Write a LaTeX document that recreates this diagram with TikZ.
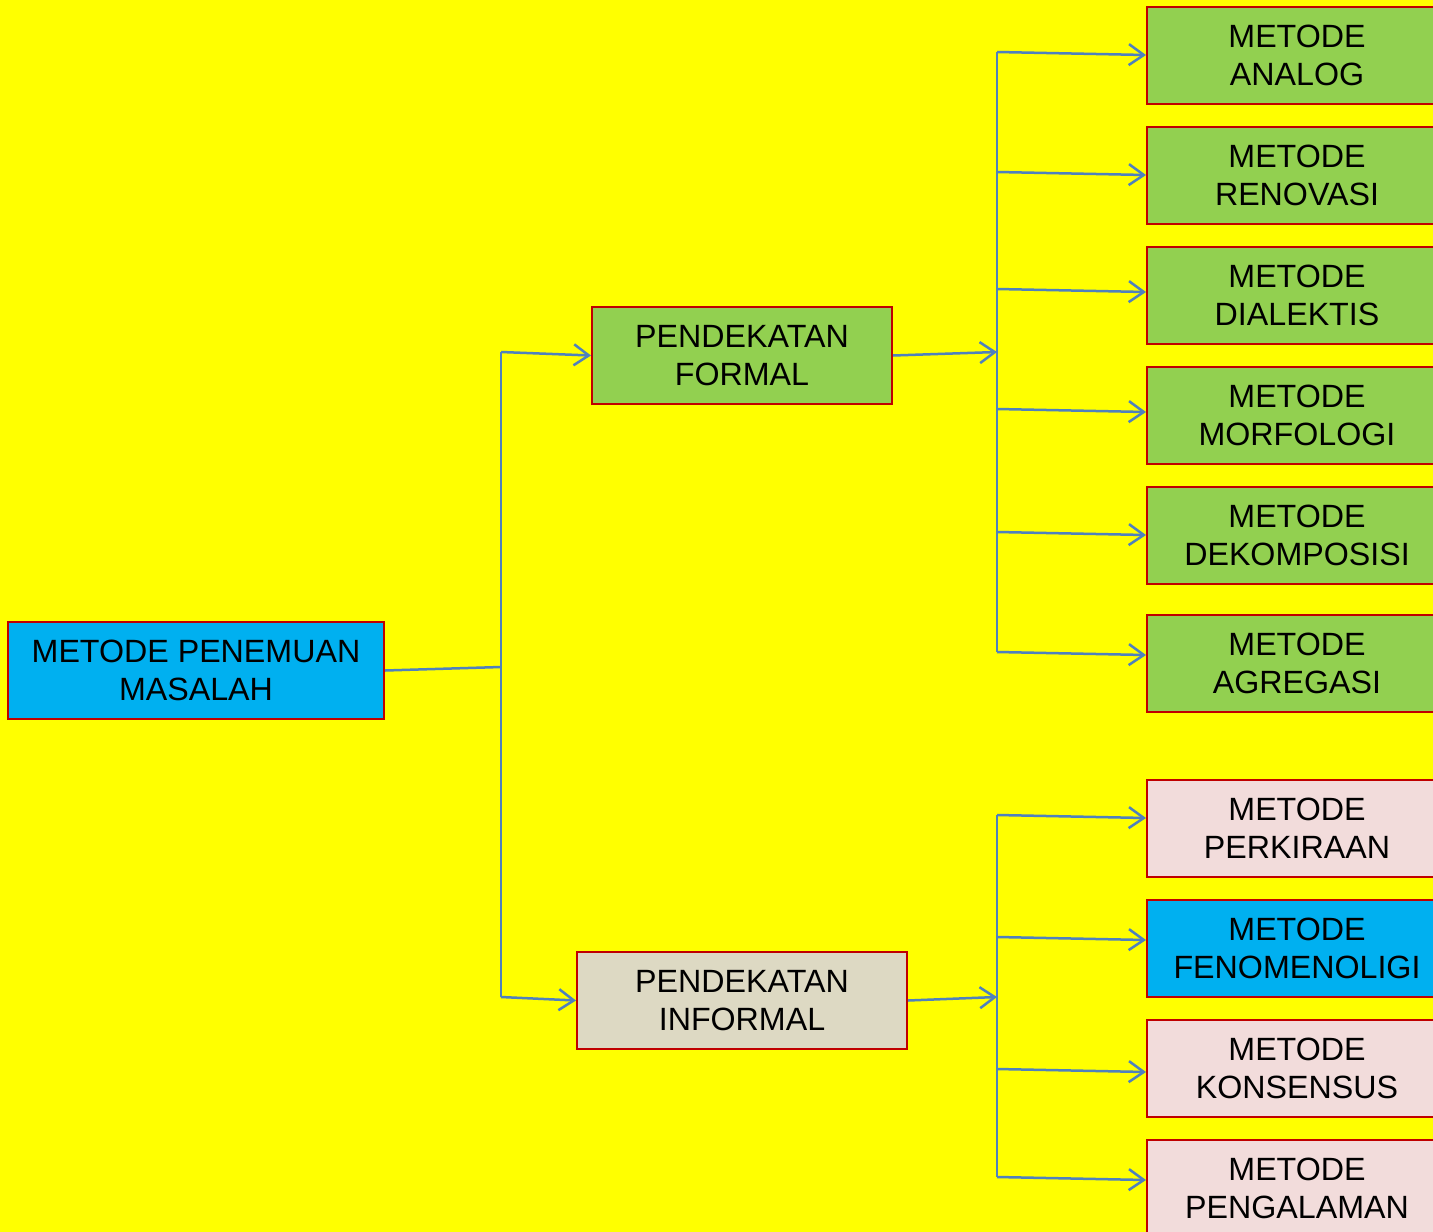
\documentclass[tikz,border=0pt]{standalone}
\usepackage{fontspec}
\setmainfont{Liberation Sans}
\usetikzlibrary{arrows.meta}
\definecolor{bgyellow}{HTML}{FFFF00}
\definecolor{boxred}{HTML}{C00000}
\definecolor{boxgreen}{HTML}{92D050}
\definecolor{boxblue}{HTML}{00B0F0}
\definecolor{boxbeige}{HTML}{DDD9C3}
\definecolor{boxpink}{HTML}{F2DCDB}
\definecolor{linkblue}{HTML}{4F81BD}
\newcommand{\boxFont}[0]{\fontsize{32.2}{38}\selectfont}

\begin{document}
\begin{tikzpicture}[x=1pt, y=-1pt]
  \tikzset{
    box/.style={draw=boxred, line width=2pt, align=center, inner sep=0pt,
      minimum height=97, font=\boxFont},
    method/.style={box, minimum width=300},
    link/.style={draw=linkblue, line width=2.5pt},
    arrow/.style={link, -{Straight Barb[length=15pt, width=21pt, line width=2.5pt]}}
  }
  \fill[bgyellow] (0,0) rectangle (1433,1232);
  \useasboundingbox (0,0) rectangle (1433,1232);

  % root and the two approaches
  \node[box, fill=boxblue, minimum width=376] (root) at (196,670.5)
    {METODE PENEMUAN\\MASALAH};
  \node[box, fill=boxgreen, minimum width=300] (formal) at (742,355.5)
    {PENDEKATAN\\FORMAL};
  \node[box, fill=boxbeige, minimum width=330] (informal) at (742,1000.5)
    {PENDEKATAN\\INFORMAL};

  % formal methods
  \foreach \n/\y/\c/\t in {1/55.5/boxgreen/ANALOG, 2/175.5/boxgreen/RENOVASI,
      3/295.5/boxgreen/DIALEKTIS, 4/415.5/boxgreen/MORFOLOGI,
      5/535.5/boxgreen/DEKOMPOSISI, 6/663.5/boxgreen/AGREGASI,
      7/828.5/boxpink/PERKIRAAN, 8/948.5/boxblue/FENOMENOLIGI,
      9/1068.5/boxpink/KONSENSUS, 10/1188.5/boxpink/PENGALAMAN}
    \node[method, fill=\c] (m\n) at (1297,\y) {METODE\\\t};

  % bus from the root
  \coordinate (rootbus) at (501,667);
  \coordinate (formalbus) at (501,352);
  \coordinate (informalbus) at (501,997);
  \draw[link] (root.east) -- (rootbus);
  \draw[link] (formalbus) -- (informalbus);
  \draw[arrow] (formalbus) -- (formal.west);
  \draw[arrow] (informalbus) -- (informal.west);

  % bus to the formal methods
  \coordinate (fbus) at (997,352);
  \draw[arrow] (formal.east) -- (fbus);
  \draw[link] (997,52) -- (997,652);
  \foreach \n/\ys/\ye in {1/52/55, 2/172/175, 3/289/292, 4/409/412,
      5/532/535, 6/652/655}
    \draw[arrow] (997,\ys) -- (m\n.west |- 0,\ye);

  % bus to the informal methods
  \coordinate (ibus) at (997,997);
  \draw[arrow] (informal.east) -- (ibus);
  \draw[link] (997,815) -- (997,1177);
  \foreach \n/\ys/\ye in {7/815/818, 8/937/940, 9/1069/1072, 10/1177/1180}
    \draw[arrow] (997,\ys) -- (m\n.west |- 0,\ye);
\end{tikzpicture}
\end{document}
